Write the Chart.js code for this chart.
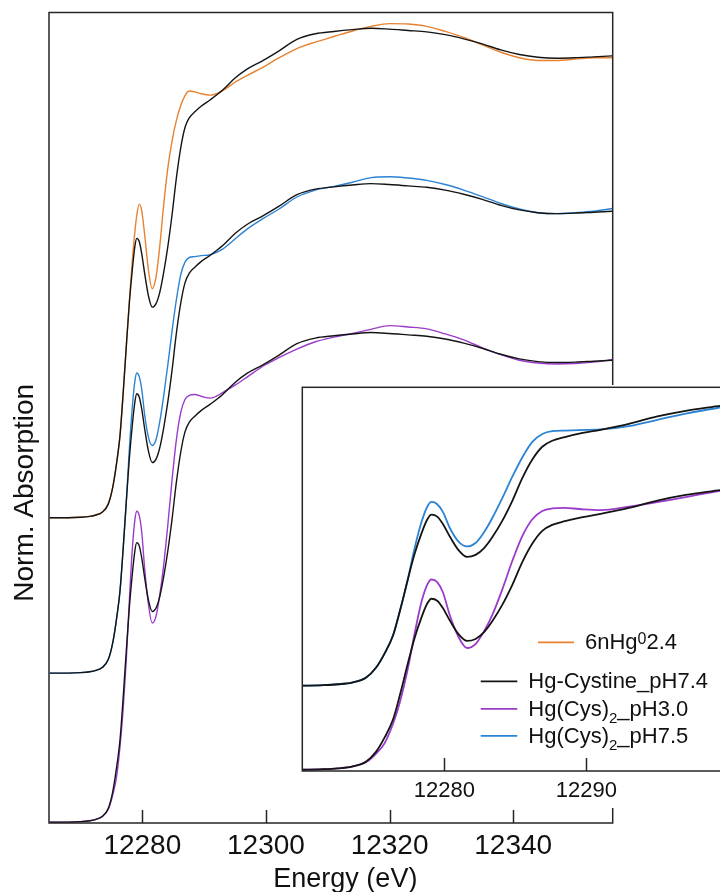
<!DOCTYPE html>
<html>
<head>
<meta charset="utf-8">
<title>Hg L3-edge XANES</title>
<script src="https://cdn.jsdelivr.net/npm/chart.js@4.4.0/dist/chart.umd.min.js"></script>
<style>
  html, body { margin: 0; padding: 0; background: #fff; overflow: hidden; }
  #wrap { position: relative; width: 720px; height: 892px; overflow: hidden; }
  #mainBox { position: absolute; left: 0; top: 0; width: 720px; height: 892px; }
  #insetBox { position: absolute; left: 300px; top: 385px; width: 432px; height: 423px; }
</style>
</head>
<body>
<div id="wrap">
  <div id="mainBox"><canvas id="mainChart"></canvas></div>
  <div id="insetBox"><canvas id="insetChart"></canvas></div>
</div>
<script>
// energy grid (eV)
const energy = [
  12265, 12268, 12270, 12271.5, 12272.5, 12273.5, 12274.5, 12275.2, 12275.8, 12276.4,
  12276.9, 12277.4, 12277.9, 12278.4, 12278.8, 12279.1, 12279.5, 12279.9, 12280.4, 12281.0,
  12281.6, 12282.2, 12282.8, 12283.4, 12284.1, 12284.8, 12285.5, 12286.2, 12286.9, 12287.6,
  12288.5, 12289.5, 12291, 12293, 12295, 12297, 12299.5, 12302, 12305, 12308,
  12311, 12314, 12317, 12320, 12323, 12326, 12329, 12332, 12335, 12338,
  12341, 12344, 12347, 12350, 12353, 12356
];

// normalized absorption of each spectrum
const hgCystine74 = [
  0, 0, 0.001, 0.003, 0.006, 0.012, 0.03, 0.065, 0.115, 0.18,
  0.27, 0.37, 0.465, 0.54, 0.588, 0.605, 0.598, 0.572, 0.527, 0.48,
  0.456, 0.463, 0.487, 0.527, 0.585, 0.655, 0.735, 0.80, 0.845, 0.866,
  0.879, 0.891, 0.905, 0.926, 0.952, 0.972, 0.99, 1.01, 1.036, 1.048,
  1.053, 1.057, 1.06, 1.058, 1.055, 1.052, 1.046, 1.037, 1.026, 1.013,
  1.003, 0.997, 0.995, 0.996, 0.998, 1.0
];
const hgCys2_30 = [
  0, 0, 0.001, 0.003, 0.006, 0.012, 0.028, 0.058, 0.095, 0.165,
  0.245, 0.35, 0.48, 0.595, 0.655, 0.673, 0.664, 0.628, 0.545, 0.47,
  0.431, 0.445, 0.49, 0.55, 0.64, 0.74, 0.827, 0.886, 0.915, 0.924,
  0.926, 0.922, 0.918, 0.93, 0.946, 0.964, 0.987, 1.005, 1.024, 1.04,
  1.05, 1.058, 1.067, 1.075, 1.072, 1.068, 1.057, 1.044, 1.027, 1.012,
  1.0, 0.994, 0.992, 0.993, 0.996, 1.001
];
const hgCys2_75 = [
  0, 0, 0.001, 0.003, 0.006, 0.012, 0.03, 0.065, 0.115, 0.18,
  0.27, 0.37, 0.485, 0.58, 0.633, 0.65, 0.642, 0.615, 0.557, 0.51,
  0.493, 0.505, 0.543, 0.595, 0.665, 0.74, 0.808, 0.862, 0.89, 0.9,
  0.902, 0.904, 0.906, 0.918, 0.94, 0.962, 0.984, 1.004, 1.031, 1.046,
  1.054, 1.063, 1.073, 1.075, 1.072, 1.067, 1.058, 1.046, 1.032, 1.017,
  1.005, 0.997, 0.995, 0.997, 1.0, 1.006
];
const nHg0_24 = [
  0, 0, 0.001, 0.003, 0.006, 0.012, 0.03, 0.065, 0.115, 0.18,
  0.27, 0.37, 0.47, 0.56, 0.62, 0.655, 0.679, 0.665, 0.61, 0.535,
  0.496, 0.52, 0.585, 0.67, 0.755, 0.815, 0.86, 0.892, 0.914, 0.924,
  0.922, 0.918, 0.915, 0.925, 0.943, 0.958, 0.975, 0.995, 1.016, 1.03,
  1.042, 1.054, 1.064, 1.07, 1.069, 1.064, 1.053, 1.04, 1.024, 1.008,
  0.996, 0.99, 0.99, 0.993, 0.996, 0.996
];

// vertical stacking offsets
const mainOffsets = [0.659, 0.3225, 0];   // 6nHg0 pair, pH7.5 pair, pH3.0 pair
const insetOffsets = [0.297, 0];          // pH7.5 pair, pH3.0 pair

const mainTicks = [12280, 12300, 12320, 12340];
const insetTicks = [12280, 12290];

const COLORS = {
  black: '#141414',
  orange: '#E8822F',
  purple: '#9B3BCB',
  blue: '#2B83D3'
};
const FONT = "'Liberation Sans', Arial, sans-serif";
const FRAME = '#262626';

function series(values, offset) {
  return energy.map((e, i) => ({ x: e, y: values[i] + offset }));
}

function line(values, offset, color, width) {
  return {
    data: series(values, offset),
    borderColor: color,
    borderWidth: width,
    pointRadius: 0,
    fill: false,
    cubicInterpolationMode: 'monotone'
  };
}

// white background, frame and inward tick marks
const frameTicks = {
  id: 'frameTicks',
  beforeDraw(chart) {
    const ctx = chart.ctx;
    ctx.save();
    ctx.fillStyle = '#fff';
    ctx.fillRect(0, 0, chart.width, chart.height);
    ctx.restore();
  },
  afterDraw(chart, args, opts) {
    const { ctx, chartArea: a } = chart;
    const x = chart.scales.x;
    ctx.save();
    ctx.strokeStyle = FRAME;
    ctx.lineWidth = 1.5;
    ctx.strokeRect(a.left, a.top, a.right - a.left, a.bottom - a.top);
    ctx.beginPath();
    x.ticks.forEach(t => {
      const px = Math.round(x.getPixelForValue(t.value)) + 0.5;
      ctx.moveTo(px, a.bottom);
      ctx.lineTo(px, a.bottom - opts.tickLen);
    });
    ctx.stroke();
    ctx.restore();
  }
};

const mainTitles = {
  id: 'mainTitles',
  afterDraw(chart) {
    const { ctx, chartArea: a } = chart;
    ctx.save();
    ctx.fillStyle = '#111';
    ctx.font = '27px ' + FONT;
    ctx.textAlign = 'center';
    ctx.textBaseline = 'alphabetic';
    ctx.fillText('Energy (eV)', (a.left + a.right) / 2 + 14.5, a.bottom + 64);
    ctx.translate(a.left - 16, (a.top + a.bottom) / 2 + 75);
    ctx.rotate(-Math.PI / 2);
    ctx.font = '28px ' + FONT;
    ctx.fillText('Norm. Absorption', 0, 0);
    ctx.restore();
  }
};

// legend entries: text parts with sub/superscripts
const legendItems = [
  { color: COLORS.orange, parts: [['6nHg', ''], ['0', 'sup'], ['2.4', '']] },
  { color: COLORS.black, parts: [['Hg-Cystine_pH7.4', '']] },
  { color: COLORS.purple, parts: [['Hg(Cys)', ''], ['2', 'sub'], ['_pH3.0', '']] },
  { color: COLORS.blue, parts: [['Hg(Cys)', ''], ['2', 'sub'], ['_pH7.5', '']] }
];

const insetLegend = {
  id: 'insetLegend',
  afterDraw(chart) {
    const { ctx, chartArea: a } = chart;
    const rows = [
      { x0: 235.7, x1: 271.7, tx: 282.7, base: 262 },
      { x0: 178.4, x1: 215, tx: 226, base: 301 },
      { x0: 178.4, x1: 215, tx: 226, base: 328.5 },
      { x0: 178.4, x1: 215, tx: 226, base: 355.5 }
    ];
    ctx.save();
    legendItems.forEach((item, i) => {
      const r = rows[i];
      const y = a.top + r.base;
      ctx.strokeStyle = item.color;
      ctx.lineWidth = 1.8;
      ctx.beginPath();
      ctx.moveTo(a.left + r.x0, y - 7);
      ctx.lineTo(a.left + r.x1, y - 7);
      ctx.stroke();
      let tx = a.left + r.tx;
      ctx.fillStyle = '#111';
      ctx.textAlign = 'left';
      ctx.textBaseline = 'alphabetic';
      item.parts.forEach(([txt, kind]) => {
        let dy = 0;
        if (kind === 'sub') { ctx.font = '15px ' + FONT; dy = 7; }
        else if (kind === 'sup') { ctx.font = '16px ' + FONT; dy = -5.5; }
        else { ctx.font = '22px ' + FONT; }
        ctx.fillText(txt, tx, y + dy);
        tx += ctx.measureText(txt).width;
      });
    });
    ctx.restore();
  }
};

function xScale(min, max, ticks, size, pad, h) {
  return {
    type: 'linear',
    min: min,
    max: max,
    grid: { display: false },
    border: { display: false },
    afterBuildTicks: s => { s.ticks = ticks.map(v => ({ value: v })); },
    afterFit: s => { s.height = h; },
    ticks: {
      padding: pad,
      color: '#111',
      font: { family: FONT, size: size },
      maxRotation: 0,
      callback: v => String(v)
    }
  };
}

new Chart(document.getElementById('mainChart'), {
  type: 'line',
  data: {
    datasets: [
      line(hgCystine74, mainOffsets[0], COLORS.black, 1.4),
      line(nHg0_24, mainOffsets[0], COLORS.orange, 1.4),
      line(hgCystine74, mainOffsets[1], COLORS.black, 1.4),
      line(hgCys2_75, mainOffsets[1], COLORS.blue, 1.4),
      line(hgCystine74, mainOffsets[2], COLORS.black, 1.4),
      line(hgCys2_30, mainOffsets[2], COLORS.purple, 1.4)
    ]
  },
  options: {
    responsive: true,
    maintainAspectRatio: false,
    animation: false,
    layout: { padding: { left: 49, top: 12.5, right: 107.3, bottom: 0 } },
    scales: {
      x: xScale(12264.9, 12356.1, mainTicks, 28, -2, 69),
      y: { type: 'linear', display: false, min: -0.002, max: 1.753 }
    },
    plugins: {
      legend: { display: false },
      tooltip: { enabled: false },
      frameTicks: { tickLen: 13 }
    }
  },
  plugins: [frameTicks, mainTitles]
});

new Chart(document.getElementById('insetChart'), {
  type: 'line',
  data: {
    datasets: [
      line(hgCystine74, insetOffsets[0], COLORS.black, 1.8),
      line(hgCys2_75, insetOffsets[0], COLORS.blue, 1.8),
      line(hgCystine74, insetOffsets[1], COLORS.black, 1.8),
      line(hgCys2_30, insetOffsets[1], COLORS.purple, 1.8)
    ]
  },
  options: {
    responsive: true,
    maintainAspectRatio: false,
    animation: false,
    layout: { padding: { left: 2.3, top: 2.3, right: 3.7, bottom: 0 } },
    scales: {
      x: xScale(12270, 12300, insetTicks, 22, -1, 37),
      y: { type: 'linear', display: false, min: -0.0035, max: 1.352 }
    },
    plugins: {
      legend: { display: false },
      tooltip: { enabled: false },
      frameTicks: { tickLen: 13 }
    }
  },
  plugins: [frameTicks, insetLegend]
});
</script>
</body>
</html>
